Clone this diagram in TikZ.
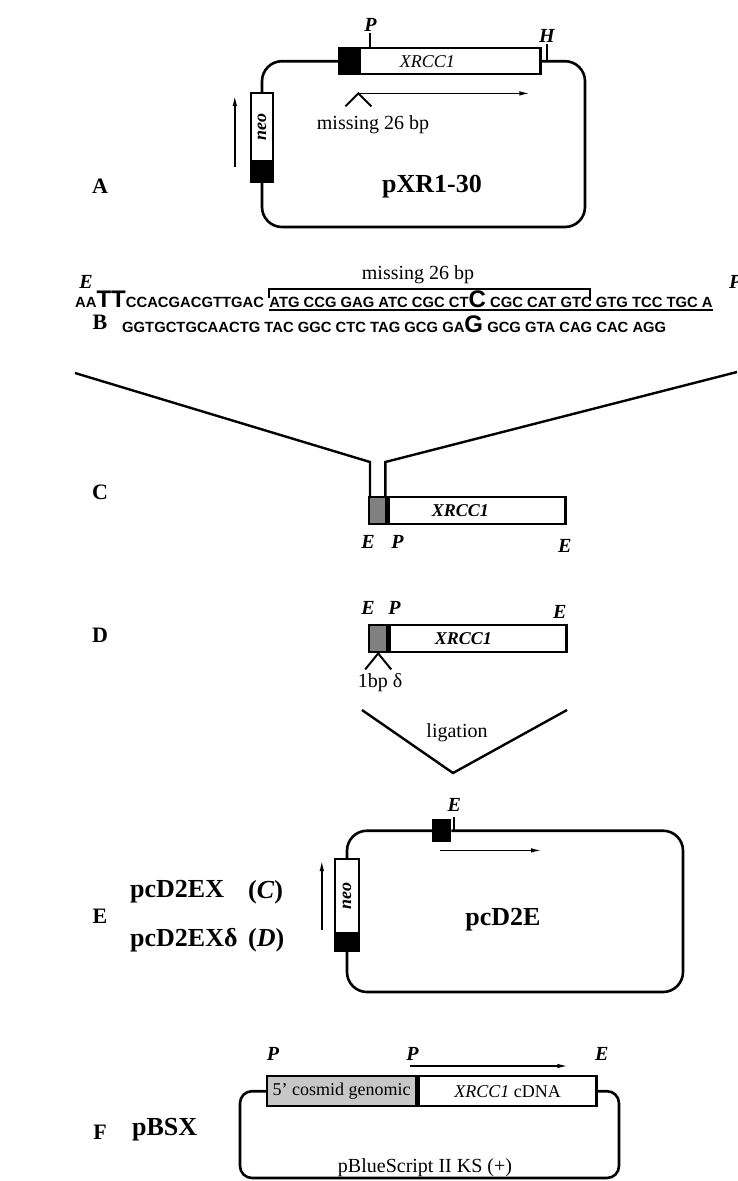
\documentclass[tikz,border=0pt]{standalone}
\usepackage{fontspec}
\setmainfont{Liberation Serif}
\newfontfamily\seqsans{Liberation Sans}
\usetikzlibrary{arrows.meta, positioning}
\newcommand{\bigbase}[1]{{\fontsize{24}{24}\selectfont #1}}

\begin{document}
\begin{tikzpicture}[x=1pt, y=-1pt, >={Latex[length=11pt,width=4.5pt]},
  backbone/.style={line width=2.6pt, rounded corners=20pt},
  boxline/.style={draw, line width=2.4pt, inner sep=0pt},
  genebox/.style={boxline, fill=white, font=\fontsize{18}{18}\selectfont\itshape},
  capbox/.style={boxline, fill=black},
  dotbox/.style={boxline, fill=black!50},
  tick/.style={line width=2pt},
  funnel/.style={line width=2.4pt},
  arrowline/.style={line width=1.6pt},
  site/.style={font=\fontsize{20}{20}\selectfont\bfseries\itshape, inner sep=1pt},
  panel/.style={font=\fontsize{22}{22}\selectfont\bfseries},
  vecname/.style={font=\fontsize{26}{26}\selectfont\bfseries, inner sep=0pt},
  plain/.style={font=\fontsize{20}{20}\selectfont, inner sep=0pt},
  genetext/.style={font=\fontsize{18}{18}\selectfont\itshape, inner sep=0pt},
  seq/.style={font=\seqsans\bfseries\fontsize{14.8}{15}\selectfont, inner sep=0pt}]
\useasboundingbox (0,0) rectangle (737,1181);

% A: pXR1-30
\node[panel] (labA) at (100,186) {A};
\node[capbox, minimum width=18pt, minimum height=26pt, anchor=north west] (capA) at (338,47) {};
\node[genebox, minimum width=181pt, minimum height=26pt, anchor=north west] (geneA) at (capA.north east) {};
\node[genetext] (txtA) at ([xshift=69pt]geneA.west) {XRCC1};
\node[genebox, minimum width=22pt, minimum height=68pt, anchor=north] (neoA) at (262,92) {\rotatebox{90}{\bfseries neo}};
\node[capbox, minimum width=22pt, minimum height=18pt, anchor=north] (neocapA) at (neoA.south) {};
\coordinate (cornA) at (585,227);
\draw[backbone] (neoA.north) |- (capA.west);
\draw[backbone] (geneA.east) -| (cornA) -| (neocapA.south);
\draw[tick] ([xshift=12pt]geneA.north west) -- ++(0,-14) node[site, above] (PA) {P};
\draw[tick] ([xshift=5pt]geneA.east) -- ++(0,-17) node[site, above] (HA) {H};
\draw[->, arrowline] ([yshift=-18pt]capA.south east) coordinate (gapA) -- ++(172,0);
\draw[tick] ([xshift=-13pt,yshift=-13pt]gapA) -- (gapA) -- ([xshift=13pt,yshift=-13pt]gapA);
\node[plain] (missA) at (373,125) {missing 26 bp};
\node[vecname] (vecA) at (432,187) {pXR1-30};
\draw[->, arrowline] ([xshift=-15pt,yshift=-5pt]neocapA.north west) -- ([xshift=-15pt,yshift=-3pt]neoA.north west);

% B: sequence
\node[panel] (labB) at (100,322) {B};
\node[site] (EB) at (86,282) {E};
\node[site, anchor=west] (PB) at (728,282) {P};
\node[seq, anchor=base west] (seq1a) at (75,307) {AA\bigbase{TT}CCACGACGTTGAC};
\node[seq, anchor=base west] (seq1b) at ([xshift=5pt]seq1a.base east) {ATG CCG GAG ATC CGC CT\bigbase{C} CGC CAT GTC GTG TCC TGC A};
\node[seq, anchor=base west] (seq2) at (122,332) {GGTGCTGCAACTG TAC GGC CTC TAG GCG GA\bigbase{G} GCG GTA CAG CAC AGG};
\draw[arrowline] ([yshift=-3pt]seq1b.base west) -- ([yshift=-3pt]seq1b.base east);
\coordinate (brR) at (590,289);
\draw[tick] ([yshift=9pt]seq1b.base west) |- (brR) -- ++(0,12);
\node[plain] (missB) at (418,275) {missing 26 bp};

% C: insert
\node[panel] (labC) at (100,492) {C};
\node[dotbox, minimum width=17pt, minimum height=27pt, anchor=north west] (dotC) at (368,496) {};
\node[genebox, minimum width=177pt, minimum height=27pt, anchor=north west] (geneC) at (dotC.north east) {};
\node[genetext, font=\fontsize{18}{18}\selectfont\bfseries\itshape] (txtC) at ([xshift=73pt]geneC.west) {XRCC1};
\node[site] (EC) at ([yshift=-17pt]dotC.south west) {E};
\node[site] (PC) at ([xshift=10pt,yshift=-17pt]geneC.south west) {P};
\node[site] (EC2) at ([xshift=-2pt,yshift=-21pt]geneC.south east) {E};
\coordinate (fanL) at (75,373);
\coordinate (fanR) at (737,372);
\draw[funnel] (fanL) -- ([xshift=2pt,yshift=34pt]dotC.north west) -- ([xshift=2pt]dotC.north west);
\draw[funnel] (fanR) -- ([xshift=-2pt,yshift=34pt]dotC.north east) -- ([xshift=-2pt]dotC.north east);

% D: 1 bp deletion
\node[panel] (labD) at (100,635) {D};
\node[dotbox, minimum width=18pt, minimum height=27pt, anchor=north west] (dotD) at (368,624) {};
\node[genebox, minimum width=177pt, minimum height=27pt, anchor=north west] (geneD) at (dotD.north east) {};
\node[genetext, font=\fontsize{18}{18}\selectfont\bfseries\itshape] (txtD) at ([xshift=75pt]geneD.west) {XRCC1};
\node[site] (ED) at ([yshift=16pt]dotD.north west) {E};
\node[site] (PD) at ([xshift=6pt,yshift=16pt]geneD.north west) {P};
\node[site] (ED2) at ([xshift=-8pt,yshift=12pt]geneD.north east) {E};
\draw[tick] ([xshift=-13pt,yshift=-16pt]dotD.south) -- (dotD.south) -- ([xshift=13pt,yshift=-16pt]dotD.south);
\node[plain] (delD) at (380,683) {1bp δ};
\coordinate (ligL) at (362,710);
\coordinate (ligT) at (453,773);
\coordinate (ligR) at (567,710);
\draw[funnel] (ligL) -- (ligT) -- (ligR);
\node[plain] (ligD) at (457,733) {ligation};

% E: pcD2E
\node[panel] (labE) at (100,916) {E};
\node[vecname, anchor=west] (vecC) at (130,892) {pcD2EX};
\node[vecname, anchor=west] (tagC) at (248,892) {(\textit{C})};
\node[vecname, anchor=west] (vecD) at (130,940) {pcD2EXδ};
\node[vecname, anchor=west] (tagD) at (248,940) {(\textit{D})};
\node[capbox, minimum width=17pt, minimum height=21pt, anchor=north west] (capE) at (432,819) {};
\node[genebox, minimum width=24pt, minimum height=74pt, anchor=north] (neoE) at (347,858) {\rotatebox{90}{\bfseries neo}};
\node[capbox, minimum width=24pt, minimum height=15pt, anchor=north] (neocapE) at (neoE.south) {};
\coordinate (cornE) at (683,992);
\draw[backbone] (neoE.north) |- (capE.west);
\draw[backbone] (capE.east) -| (cornE) -| (neocapE.south);
\draw[tick] ([xshift=3pt]capE.east) -- ++(0,-14) node[site, above=3pt] (EE) {E};
\draw[->, arrowline] ([xshift=8pt,yshift=-8pt]capE.south west) -- ++(102,0);
\draw[->, arrowline] ([xshift=-12pt,yshift=4pt]neocapE.north west) -- ([xshift=-12pt,yshift=-2pt]neoE.north west);
\node[vecname] (vecE) at (503,920) {pcD2E};

% F: pBSX
\node[panel] (labF) at (100,1132) {F};
\node[vecname, anchor=west] (vecF) at (132,1130) {pBSX};
\node[dotbox, fill=black!22, font=\fontsize{18}{18}\selectfont, minimum width=149pt, minimum height=30pt, anchor=north west] (dotF) at (266,1075) {5' cosmid genomic};
\node[genebox, font=\fontsize{18}{18}\selectfont, minimum width=178pt, minimum height=30pt, anchor=north west] (geneF) at (dotF.north east) {\textit{XRCC1} cDNA};
\node[site] (PF) at ([xshift=7pt,yshift=21pt]dotF.north west) {P};
\node[site] (PF2) at ([xshift=-5pt,yshift=21pt]geneF.north west) {P};
\node[site] (EF) at ([xshift=4pt,yshift=21pt]geneF.north east) {E};
\draw[->, arrowline] ([xshift=-7pt,yshift=9pt]geneF.north west) -- ++(158,0);
\coordinate (cornFL) at (240,1178);
\coordinate (cornFR) at (619,1178);
\draw[backbone, rounded corners=12pt] (dotF.west) -| (cornFL) -- (cornFR) |- (geneF.east);
\node[plain] (bsF) at (425,1168) {pBlueScript II KS (+)};
\end{tikzpicture}
\end{document}
